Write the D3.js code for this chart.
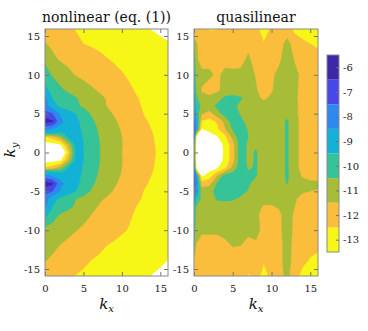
<!DOCTYPE html>
<html>
<head>
<meta charset="utf-8">
<script src="https://cdn.jsdelivr.net/npm/d3@7"></script>
<style>
body { margin: 0; background: #fff; }
svg { display: block; }
</style>
</head>
<body>
<svg id="chart" width="368" height="331"></svg>
<script>
// colour levels (log10 of the spectrum) and their colours
var levels = [-13, -12, -11, -10, -9, -8, -7, -6];
var levelColors = ['#f6f617', '#fbbd3c', '#a7bd38', '#36c398', '#13b1d6', '#2d89ef', '#4847e8', '#3e26a8'];

var xTicks = [0, 5, 10, 15];
var yTicks = [-15, -10, -5, 0, 5, 10, 15];

// nonlinear panel grid
var kxNonlin = [0, 1, 2, 3, 4, 5, 6, 7, 8, 9, 10, 11, 12, 13, 14, 15, 16];
var kyNonlin = [16, 14, 12, 10, 8, 7, 6, 5, 4, 3, 2.5, 2, 1, 0, -1, -2, -2.5, -3, -4, -5, -6, -7, -8, -10, -12, -14, -16];
var nonlinear = [
    [-11.9, -12.07, -12.24, -12.41, -12.55, -12.65, -12.75, -12.85, -12.95, -13.05, -13.15, -13.25, -13.35, -13.45, -13.55, -13.65, -13.75],
    [-11.45, -11.67, -11.88, -12.08, -12.29, -12.5, -12.59, -12.67, -12.76, -12.85, -12.93, -13.02, -13.1, -13.19, -13.28, -13.36, -13.45],
    [-10.7, -11.32, -11.6, -11.74, -11.89, -12.03, -12.17, -12.31, -12.46, -12.58, -12.69, -12.8, -12.91, -13.02, -13.13, -13.24, -13.35],
    [-10.1, -10.61, -10.94, -11.27, -11.55, -11.7, -11.85, -12.0, -12.15, -12.3, -12.45, -12.6, -12.72, -12.84, -12.96, -13.08, -13.2],
    [-9.2, -9.84, -10.33, -10.65, -10.89, -11.12, -11.36, -11.58, -11.79, -11.99, -12.19, -12.4, -12.58, -12.7, -12.82, -12.94, -13.06],
    [-8.3, -9.53, -9.83, -10.14, -10.44, -10.72, -11.0, -11.28, -11.55, -11.78, -12.01, -12.24, -12.48, -12.6, -12.72, -12.84, -12.96],
    [-8.0, -9.15, -9.72, -10.03, -10.34, -10.64, -10.93, -11.21, -11.5, -11.73, -11.95, -12.18, -12.41, -12.6, -12.72, -12.84, -12.96],
    [-7.2, -7.5, -8.63, -9.07, -9.5, -10.06, -10.57, -10.91, -11.26, -11.57, -11.82, -12.06, -12.3, -12.55, -12.67, -12.79, -12.91],
    [-6.0, -6.38, -8.25, -8.88, -9.29, -9.78, -10.33, -10.73, -11.07, -11.4, -11.68, -11.93, -12.18, -12.43, -12.62, -12.74, -12.86],
    [-8.3, -8.62, -8.85, -9.08, -9.31, -9.61, -10.13, -10.6, -10.93, -11.27, -11.57, -11.82, -12.06, -12.3, -12.55, -12.67, -12.79],
    [-9.3, -9.5, -9.6, -9.3, -9.25, -9.58, -10.06, -10.55, -10.89, -11.22, -11.53, -11.79, -12.03, -12.27, -12.5, -12.64, -12.76],
    [-12.6, -12.1, -11.0, -9.4, -9.25, -9.55, -10.0, -10.5, -10.85, -11.18, -11.5, -11.76, -12.0, -12.24, -12.48, -12.62, -12.74],
    [-14.0, -13.9, -13.6, -11.5, -9.2, -9.5, -9.98, -10.45, -10.85, -11.15, -11.48, -11.74, -11.98, -12.22, -12.46, -12.6, -12.72],
    [-16.0, -16.0, -15.6, -12.6, -9.3, -9.5, -9.98, -10.45, -10.8, -11.15, -11.5, -11.75, -11.98, -12.2, -12.42, -12.62, -12.74],
    [-14.0, -13.9, -13.7, -11.6, -9.2, -9.5, -9.98, -10.45, -10.85, -11.15, -11.48, -11.74, -11.98, -12.22, -12.46, -12.6, -12.72],
    [-12.4, -12.0, -11.0, -9.4, -9.25, -9.55, -10.0, -10.5, -10.85, -11.18, -11.5, -11.76, -12.0, -12.24, -12.48, -12.62, -12.74],
    [-9.2, -9.5, -9.6, -9.3, -9.25, -9.58, -10.06, -10.55, -10.89, -11.22, -11.53, -11.79, -12.03, -12.27, -12.5, -12.64, -12.76],
    [-8.2, -8.62, -8.85, -9.08, -9.31, -9.61, -10.13, -10.6, -10.93, -11.27, -11.57, -11.82, -12.06, -12.3, -12.55, -12.67, -12.79],
    [-6.0, -6.38, -8.25, -8.88, -9.29, -9.78, -10.33, -10.73, -11.07, -11.4, -11.68, -11.93, -12.18, -12.43, -12.62, -12.74, -12.86],
    [-7.2, -7.5, -8.63, -9.07, -9.5, -10.06, -10.57, -10.91, -11.26, -11.57, -11.82, -12.06, -12.3, -12.55, -12.67, -12.79, -12.91],
    [-8.0, -9.15, -9.76, -10.13, -10.5, -10.79, -11.07, -11.36, -11.6, -11.81, -12.01, -12.21, -12.42, -12.58, -12.7, -12.82, -12.94],
    [-8.3, -9.54, -9.91, -10.28, -10.63, -10.95, -11.27, -11.56, -11.75, -11.95, -12.14, -12.33, -12.53, -12.65, -12.77, -12.89, -13.01],
    [-9.2, -10.04, -10.59, -10.82, -11.05, -11.27, -11.5, -11.69, -11.87, -12.06, -12.25, -12.43, -12.6, -12.72, -12.84, -12.96, -13.08],
    [-10.8, -10.97, -11.13, -11.3, -11.47, -11.63, -11.78, -11.94, -12.09, -12.25, -12.41, -12.55, -12.67, -12.79, -12.91, -13.03, -13.15],
    [-11.1, -11.32, -11.53, -11.69, -11.85, -12.02, -12.18, -12.34, -12.5, -12.62, -12.74, -12.86, -12.98, -13.1, -13.22, -13.34, -13.46],
    [-11.48, -11.66, -11.83, -12.01, -12.18, -12.36, -12.52, -12.62, -12.72, -12.82, -12.92, -13.01, -13.11, -13.21, -13.3, -13.4, -13.52],
    [-12.0, -12.14, -12.28, -12.43, -12.55, -12.65, -12.74, -12.84, -12.93, -13.03, -13.12, -13.22, -13.31, -13.41, -13.55, -13.65, -13.75]
];

// quasilinear panel grid (extra column for the thin edge strip)
var kxQuasi = [0, 0.3, 1, 2, 3, 4, 5, 6, 7, 8, 9, 10, 11, 12, 13, 14, 15, 16];
var kyQuasi = [16, 14, 12, 10, 8, 7, 6, 5, 4, 3, 2, 1, 0, -1, -2, -3, -4, -5, -6, -7, -8, -10, -12, -14, -16];
var quasilinear = [
    [-12, -12, -12, -12.6, -12.55, -12.1, -12, -12.1, -12.55, -12.3, -12.9, -12.4, -12.0, -12.1, -12.8, -13.0, -13.1, -13.2],
    [-11.3, -11.4, -12, -12, -12, -12, -12, -12, -11.8, -12.1, -12.45, -12.1, -11.9, -11.2, -11.9, -12.3, -12.5, -12.65],
    [-10.0, -11.3, -12, -12, -12, -12, -12, -11.9, -11.3, -12.0, -12.3, -12.2, -11.7, -10.9, -11.6, -12, -12.1, -12.2],
    [-9.8, -10.8, -11.2, -11.2, -11.8, -11.1, -11.2, -11.2, -11.0, -11.6, -12.1, -11.7, -11.2, -10.9, -11.2, -11.8, -12, -12.1],
    [-9.3, -10.6, -11.6, -12.3, -11.7, -11.1, -11.0, -11.0, -10.9, -11.4, -12.0, -11.6, -11.0, -10.9, -11.3, -11.8, -12.0, -12.0],
    [-9.0, -10.3, -11.2, -11.0, -10.9, -10.3, -10.2, -10.4, -10.8, -11.2, -11.7, -11.3, -11.0, -10.9, -11.3, -11.9, -12.0, -12.0],
    [-8.8, -9.6, -10.8, -10.9, -10.3, -10.1, -10.3, -10.7, -11.0, -11.0, -11.0, -11.0, -11.3, -11.0, -11.3, -11.8, -12, -12],
    [-8.0, -9.8, -11.4, -11.9, -10.9, -10.1, -10.0, -10.6, -11.0, -11.0, -11.0, -11.0, -11.0, -10.8, -11.3, -11.8, -12, -12],
    [-7.4, -8.6, -12.6, -12.8, -12.4, -11.2, -10.0, -10.2, -10.9, -11.0, -11.0, -11.0, -11.0, -10.35, -11.2, -11.8, -12, -12],
    [-7.2, -8.5, -13.6, -13.2, -12.7, -11.6, -10.4, -9.9, -10.6, -11.0, -11.0, -11.0, -11.0, -10.35, -11.2, -11.8, -12, -12],
    [-7.4, -13.8, -14.5, -14.0, -13.6, -12.8, -11.2, -9.9, -10.5, -11.0, -11.0, -11.0, -11.0, -10.35, -11.2, -11.8, -12, -12],
    [-9.0, -14.0, -14.8, -14.5, -14.0, -13.3, -11.9, -9.9, -10.7, -10.6, -11.0, -11.0, -11.0, -10.35, -11.2, -11.8, -12, -12],
    [-9.2, -14.2, -15.0, -14.8, -14.2, -13.3, -12.0, -9.9, -10.7, -10.42, -11.0, -11.0, -11.0, -10.35, -11.2, -11.8, -12, -12],
    [-9.0, -14.0, -14.8, -14.5, -14.0, -13.3, -11.9, -9.9, -10.7, -10.42, -11.0, -11.0, -11.0, -10.35, -11.2, -11.8, -12, -12],
    [-7.6, -13.8, -14.5, -14.0, -13.6, -12.8, -11.2, -9.9, -10.6, -10.42, -11.0, -11.0, -11.0, -10.35, -11.2, -11.8, -12, -12],
    [-7.2, -8.5, -13.7, -13.0, -11.5, -10.0, -9.9, -10.0, -10.3, -10.45, -11.0, -11.0, -11.0, -10.35, -11.0, -11.6, -11.8, -11.9],
    [-7.0, -8.0, -12.0, -11.8, -10.4, -9.9, -9.9, -10.0, -10.3, -11.0, -11.0, -11.0, -11.0, -10.45, -11.0, -11.2, -11.3, -11.3],
    [-7.6, -8.6, -11.0, -10.8, -10.2, -9.9, -10.0, -10.1, -10.6, -11.0, -11.0, -11.0, -11.0, -11.0, -11.1, -11.4, -11.5, -11.6],
    [-8.3, -9.5, -10.9, -10.9, -10.4, -10.3, -10.4, -10.7, -11.0, -11.0, -11.2, -11.2, -11.1, -11.0, -11.4, -11.8, -12, -12],
    [-9.6, -10.6, -11.0, -11.0, -11.0, -11.0, -11.0, -11.0, -11.0, -11.2, -11.6, -11.6, -11.4, -11.0, -11.5, -12, -12, -12],
    [-9.8, -10.8, -11.1, -11.1, -11.0, -11.0, -11.0, -11.0, -11.0, -11.2, -12.0, -12.0, -11.7, -11.0, -11.7, -12, -12, -12],
    [-10.0, -11.0, -11.3, -11.3, -11.3, -11.1, -11.0, -11.0, -11.2, -11.0, -12.0, -12.1, -11.8, -10.9, -11.8, -12, -12, -12],
    [-10.4, -11.6, -12, -12, -12, -11.8, -11.45, -11.5, -11.9, -11.8, -12.1, -12.1, -11.9, -11.0, -11.9, -12.1, -12.2, -12.3],
    [-11.8, -12, -12, -12, -12, -12, -12, -12, -12.2, -12.0, -12.45, -12.1, -11.8, -11.1, -11.9, -12.3, -12.6, -12.8],
    [-12, -12, -12, -12, -12, -12, -12, -12.1, -12.6, -12.2, -12.8, -12.3, -11.9, -11.2, -12.2, -12.8, -13.0, -13.1]
];

var frameColor = '#8a8a8a';
var serif = '"DejaVu Serif", serif';

var svg = d3.select('#chart');
var thresholds = levels.map(function(l) { return l - 0.5; });
var colorOf = d3.scaleOrdinal().domain(thresholds).range(levelColors);

var y = d3.scaleLinear().domain([-15.9, 15.9]).range([276, 29]);

function drawPanel(id, left, right, kxs, kys, field, title) {
    var x = d3.scaleLinear().domain([0, 16]).range([left, right]);
    var nx = kxs.length, ny = kys.length;
    var flat = [];
    field.forEach(function(row) { row.forEach(function(v) { flat.push(v); }); });

    // grid index -> k (non uniform grid)
    var ix = d3.scaleLinear().domain(d3.range(nx)).range(kxs).clamp(true);
    var iy = d3.scaleLinear().domain(d3.range(ny)).range(kys).clamp(true);
    var path = d3.geoPath(d3.geoTransform({
        point: function(px, py) {
            this.stream.point(x(ix(px - 0.5)), y(iy(py - 0.5)));
        }
    }));

    svg.append('clipPath').attr('id', 'clip-' + id)
        .append('rect')
        .attr('x', left).attr('y', y(15.9))
        .attr('width', right - left).attr('height', y(-15.9) - y(15.9));

    var g = svg.append('g').attr('clip-path', 'url(#clip-' + id + ')');
    g.append('rect')
        .attr('x', left).attr('y', y(15.9))
        .attr('width', right - left).attr('height', y(-15.9) - y(15.9))
        .attr('fill', '#fff');

    var bands = d3.contours().size([nx, ny]).thresholds(thresholds)(flat);
    g.selectAll('path')
        .data(bands)
        .enter().append('path')
        .attr('d', path)
        .attr('fill', function(d) { return colorOf(d.value); })
        .attr('stroke', function(d) { return colorOf(d.value); })
        .attr('stroke-width', 0.3);

    // inner ticks on all four sides
    var fmt = function(d) { return String(d); };
    var axes = [
        svg.append('g').attr('transform', 'translate(0,' + y(-15.9) + ')')
            .call(d3.axisBottom(x).tickValues(xTicks).tickSize(-4).tickPadding(9).tickFormat(fmt)),
        svg.append('g').attr('transform', 'translate(0,' + y(15.9) + ')')
            .call(d3.axisTop(x).tickValues(xTicks).tickSize(-4).tickFormat('')),
        svg.append('g').attr('transform', 'translate(' + left + ',0)')
            .call(d3.axisLeft(y).tickValues(yTicks).tickSize(-4).tickPadding(5).tickFormat(fmt)),
        svg.append('g').attr('transform', 'translate(' + right + ',0)')
            .call(d3.axisRight(y).tickValues(yTicks).tickSize(-4).tickFormat(''))
    ];
    axes.forEach(function(a) {
        a.select('.domain').remove();
        a.attr('font-family', serif).attr('font-size', 10);
        a.selectAll('line').attr('stroke', '#727272');
        a.selectAll('text').attr('fill', '#222');
    });

    svg.append('rect')
        .attr('x', left).attr('y', y(15.9))
        .attr('width', right - left).attr('height', y(-15.9) - y(15.9))
        .attr('fill', 'none').attr('stroke', frameColor).attr('stroke-width', 1);

    svg.append('text')
        .attr('x', (left + right) / 2).attr('y', 22)
        .attr('text-anchor', 'middle')
        .attr('font-family', serif).attr('font-size', 14)
        .attr('fill', '#111')
        .text(title);

    var xl = svg.append('text')
        .attr('x', (left + right) / 2).attr('y', 309)
        .attr('text-anchor', 'middle')
        .attr('font-family', serif).attr('font-size', 15).attr('font-style', 'italic')
        .attr('fill', '#111')
        .text('k');
    xl.append('tspan').attr('dy', 3).attr('font-size', 10).text('x');
}

drawPanel('nl', 45, 168, kxNonlin, kyNonlin, nonlinear, 'nonlinear (eq. (1))');
drawPanel('ql', 194, 318, kxQuasi, kyQuasi, quasilinear, 'quasilinear');

var yl = svg.append('text')
    .attr('transform', 'translate(15,150) rotate(-90)')
    .attr('text-anchor', 'middle')
    .attr('font-family', serif).attr('font-size', 15).attr('font-style', 'italic')
    .attr('fill', '#111')
    .text('k');
yl.append('tspan').attr('dy', 3).attr('font-size', 10).text('y');

// colour bar
var cb = d3.scaleLinear().domain([-13.5, -5.5]).range([252, 55]);
var cbar = svg.append('g');
cbar.selectAll('rect')
    .data(levels)
    .enter().append('rect')
    .attr('x', 327).attr('width', 12)
    .attr('y', function(d) { return cb(d + 0.5); })
    .attr('height', function(d) { return cb(d - 0.5) - cb(d + 0.5); })
    .attr('fill', function(d, i) { return levelColors[i]; });
cbar.append('rect')
    .attr('x', 327).attr('y', 55).attr('width', 12).attr('height', 197)
    .attr('fill', 'none').attr('stroke', frameColor).attr('stroke-width', 1);
var cax = svg.append('g').attr('transform', 'translate(339,0)')
    .call(d3.axisRight(cb).tickValues(levels).tickSize(-3).tickPadding(4).tickFormat(function(d) { return String(d); }));
cax.select('.domain').remove();
cax.attr('font-family', serif).attr('font-size', 10);
cax.selectAll('line').attr('stroke', '#727272');
cax.selectAll('text').attr('fill', '#222');
</script>
</body>
</html>
